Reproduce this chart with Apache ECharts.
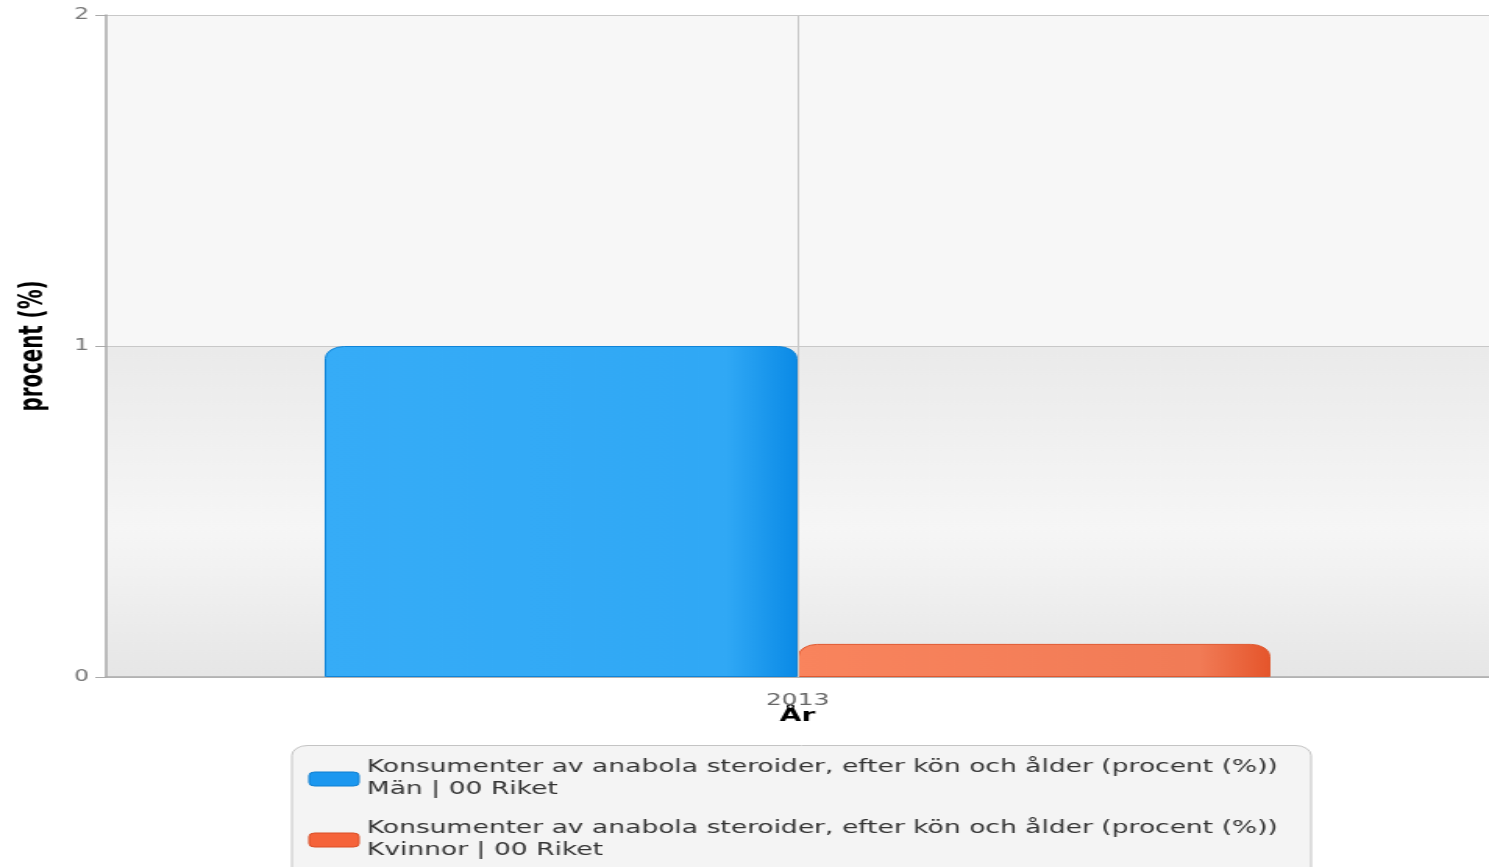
<!DOCTYPE html>
<html><head><meta charset="utf-8">
<script src="https://cdn.jsdelivr.net/npm/echarts@6/dist/echarts.min.js"></script>
<style>
html,body{margin:0;padding:0;background:#fff;overflow:hidden}
#c{width:954px;height:867px;transform:scaleX(1.5608);transform-origin:0 0}
</style>
</head><body><div id="c"></div>
<script>
var categories = ['2013'];
var seriesNames = [
  'Konsumenter av anabola steroider, efter kön och ålder (procent (%))\nMän | 00 Riket',
  'Konsumenter av anabola steroider, efter kön och ålder (procent (%))\nKvinnor | 00 Riket'
];
var valuesMen = [1.0];
var valuesWomen = [0.1];
var yTicks = [0, 1, 2];

function grad(a, b, c) {
  return {type: 'linear', x: 0, y: 0, x2: 1, y2: 0,
    colorStops: [{offset: 0, color: a}, {offset: 0.85, color: b}, {offset: 1, color: c}]};
}
var font = 'DejaVu Sans';
var chart = echarts.init(document.getElementById('c'));
chart.setOption({
  animation: false,
  backgroundColor: '#fff',
  grid: {left: 68, right: 0, top: 15, bottom: 190, containLabel: false, outerBoundsMode: 'none'},
  graphic: [{
    type: 'rect', left: 186.5, top: 745, z: -1, silent: true,
    shape: {width: 653, height: 140, r: 10},
    style: {fill: '#f4f4f4', stroke: '#c4c4c4', lineWidth: 1}
  }],
  legend: {
    orient: 'vertical', left: 186.5, top: 745,
    padding: [12, 10, 0, 11], itemGap: 17,
    itemWidth: 32, itemHeight: 14,
    textStyle: {fontFamily: font, fontSize: 17, color: '#333', lineHeight: 22, padding: [0, 0, 0, 0]},
    data: [
      {name: seriesNames[0], itemStyle: {color: '#1b97ef', borderColor: '#0f7fd0', borderWidth: 1, borderRadius: 3}},
      {name: seriesNames[1], itemStyle: {color: '#f5633a', borderColor: '#d94e26', borderWidth: 1, borderRadius: 3}}
    ]
  },
  xAxis: {
    type: 'category', data: categories,
    name: 'År', nameLocation: 'middle', nameGap: 30, nameMoveOverlap: false,
    nameTextStyle: {fontFamily: font, fontSize: 18, fontWeight: 'bold', color: '#000'},
    axisLine: {lineStyle: {color: '#aaa', width: 1.5}},
    axisTick: {alignWithLabel: true, length: 8, lineStyle: {color: '#aaa'}},
    axisLabel: {fontFamily: font, fontSize: 16, color: '#666', margin: 16},
    splitLine: {show: false}
  },
  yAxis: {
    type: 'value', min: yTicks[0], max: yTicks[yTicks.length - 1], interval: 1,
    name: 'procent (%)', nameLocation: 'middle', nameGap: 36, nameRotate: 90,
    nameTextStyle: {fontFamily: 'DejaVu Sans Condensed', fontSize: 22, fontWeight: 'bold', color: '#000'},
    axisLine: {show: true, lineStyle: {color: '#aaa', width: 1.5}},
    axisTick: {show: true, length: 7, lineStyle: {color: '#aaa'}},
    axisLabel: {fontFamily: font, fontSize: 15, color: '#777', margin: 11},
    splitLine: {lineStyle: {color: '#c8c8c8'}},
    splitArea: {show: true, areaStyle: {color: [
      {type: 'linear', x: 0, y: 0, x2: 0, y2: 1, colorStops: [
        {offset: 0, color: '#eaeaea'}, {offset: 0.55, color: '#f6f6f6'}, {offset: 1, color: '#e6e6e6'}]},
      '#f7f7f7']}}
  },
  series: [
    {
      name: seriesNames[0], type: 'bar', data: valuesMen,
      barGap: '0%', barCategoryGap: '31.6%',
      itemStyle: {color: grad('#36acf7', '#30a8f5', '#0a8ae6'), borderColor: '#0f84d8', borderWidth: 1, borderRadius: [12, 12, 0, 0]},
      z: 3
    },
    {
      name: seriesNames[1], type: 'bar', data: valuesWomen,
      itemStyle: {color: grad('#f9845d', '#f17b56', '#e5552b'), borderColor: '#e0582f', borderWidth: 1, borderRadius: [12, 12, 0, 0]},
      z: 3
    },
    {
      name: 'gridline', type: 'line', data: [], silent: true, z: 1,
      markLine: {silent: true, symbol: 'none', label: {show: false},
        lineStyle: {color: '#c8c8c8', type: 'solid', width: 1},
        data: [{xAxis: categories[0]}]}
    }
  ]
});
</script></body></html>
